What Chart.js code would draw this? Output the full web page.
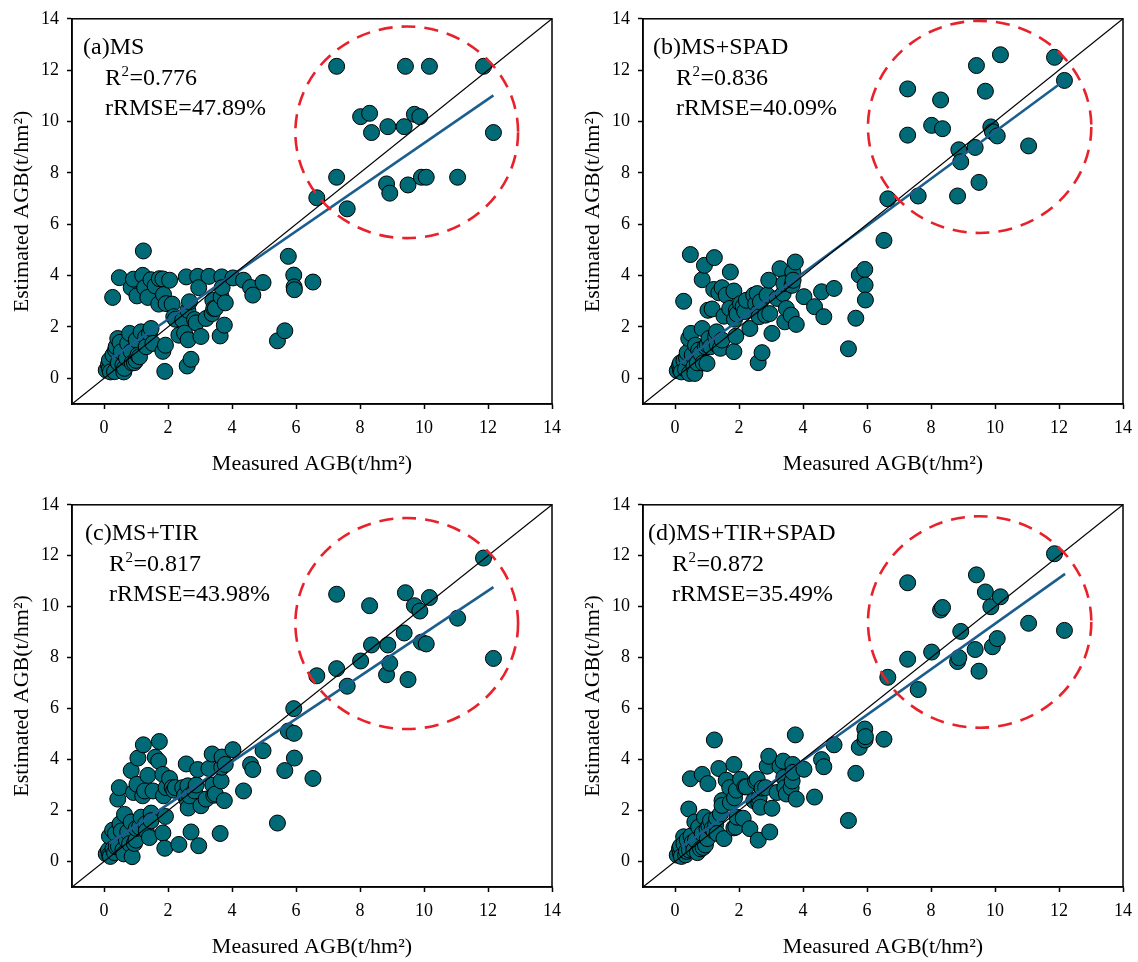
<!DOCTYPE html>
<html>
<head>
<meta charset="utf-8">
<script src="https://cdn.jsdelivr.net/npm/chart.js@4.4.1/dist/chart.umd.min.js"></script>
<style>
  body { margin: 0; background: #fff; }
  #wrap { position: relative; width: 1138px; height: 962px; }
  canvas { position: absolute; }
</style>
</head>
<body>
<div id="wrap">
  <canvas id="pa" width="569" height="481" style="left:0;top:0"></canvas>
  <canvas id="pb" width="569" height="481" style="left:571px;top:0"></canvas>
  <canvas id="pc" width="569" height="476" style="left:0;top:486px"></canvas>
  <canvas id="pd" width="569" height="476" style="left:571px;top:486px"></canvas>
</div>
<script>
// measured AGB (t/hm2) of the samples, same for every model
var measured = [
  0.07,0.14,0.17,0.17,0.2,0.27,0.28,0.33,0.36,0.38,
  0.43,0.45,0.48,0.5,0.54,0.59,0.62,0.64,0.7,0.74,
  0.8,0.85,0.85,0.88,0.92,0.95,1.0,1.01,1.03,1.06,
  1.11,1.16,1.21,1.23,1.27,1.3,1.32,1.37,1.42,1.47,
  1.47,1.53,1.6,1.71,1.73,1.84,1.84,1.86,1.9,1.92,
  1.94,2.05,2.13,2.18,2.23,2.34,2.46,2.52,2.57,2.6,
  2.62,2.63,2.67,2.72,2.83,2.88,2.93,2.96,3.03,3.19,
  3.28,3.38,3.4,3.43,3.48,3.63,3.66,3.68,3.69,3.76,
  3.79,
  4.03,4.36,4.58,4.65,4.97,5.42,5.65,5.76,5.93,5.94,5.95,6.53,
  6.65,7.27,7.27,7.6,8.02,8.3,8.36,8.83,8.87,8.93,9.38,9.42,9.5,9.7,9.87,9.92,10.07,10.17,11.05,11.86,12.17
];

// estimated AGB, model (a) MS
var estMS = [
  0.32,0.53,0.39,0.71,0.25,3.15,0.91,0.26,1.10,1.23,
  1.55,0.60,3.92,1.40,1.04,0.52,0.25,0.39,0.80,1.36,
  1.75,3.53,1.04,0.60,3.86,0.61,0.70,1.49,3.21,0.90,
  0.84,1.81,4.01,4.96,3.53,1.60,1.23,3.15,1.75,1.94,
  3.84,1.36,3.60,2.89,3.88,3.87,1.05,3.26,0.27,1.29,
  2.91,3.82,2.89,2.40,2.30,1.68,2.27,1.76,3.95,0.48,
  2.65,1.50,2.98,0.74,2.29,2.16,3.97,3.53,1.63,2.33,
  3.97,2.52,3.04,2.72,2.72,1.65,3.17,3.95,3.53,2.07,
  2.94,
  3.91,3.82,3.54,3.24,3.73,1.46,1.85,4.75,4.02,3.56,3.45,3.75,
  7.03,12.15,7.83,6.60,10.19,10.32,9.57,7.57,9.80,7.21,9.80,12.15,7.53,10.28,10.19,7.83,7.83,12.15,7.83,12.15,9.57
];

// estimated AGB, model (b) MS+SPAD
var estMSSPAD = [
  0.30,0.50,0.32,0.60,0.25,3.00,0.70,0.35,0.80,1.00,
  1.55,0.19,4.82,1.75,0.91,0.45,0.19,1.29,0.60,1.10,
  0.97,3.84,1.94,0.60,4.40,1.23,0.58,1.30,2.65,1.55,
  1.23,2.70,3.46,4.70,1.62,1.81,1.30,3.33,1.17,1.49,
  3.53,2.42,3.24,2.72,4.14,3.40,1.04,2.30,1.64,2.65,
  2.50,2.91,2.80,2.60,3.04,1.94,3.24,2.90,3.30,0.61,
  2.60,2.40,2.98,1.00,2.46,3.24,3.82,2.52,1.75,3.11,
  4.27,3.30,3.69,2.20,2.72,2.46,3.62,4.14,3.82,4.53,
  2.10,
  3.18,2.79,3.37,2.40,3.50,1.15,2.34,4.02,4.24,3.63,3.05,5.37,
  6.99,11.27,9.47,7.10,9.85,10.84,9.72,7.10,8.90,8.43,8.99,12.18,7.63,11.18,9.79,9.60,9.44,12.60,9.05,12.50,11.60
];

// estimated AGB, model (c) MS+TIR
var estMSTIR = [
  0.30,0.45,0.26,0.99,0.20,1.23,0.50,0.35,1.10,0.58,
  2.45,0.60,2.90,1.48,1.20,0.45,0.30,1.85,0.84,1.16,
  0.70,3.57,1.55,0.19,2.71,0.71,0.84,1.30,3.03,4.06,
  1.35,1.74,2.58,4.58,2.77,1.48,1.20,3.38,0.94,1.90,
  1.60,2.77,4.09,3.94,4.71,3.42,1.12,2.58,0.52,1.77,
  2.90,3.26,2.90,2.80,2.90,0.67,2.90,2.60,3.83,2.40,
  2.97,2.10,2.58,1.16,2.77,3.00,3.61,0.62,2.19,2.45,
  3.65,4.22,3.00,2.60,2.65,1.10,3.16,3.70,4.10,2.39,
  3.81,
  4.39,2.77,3.81,3.61,4.35,1.51,3.57,5.12,6.00,5.03,4.06,3.26,
  7.29,10.49,7.57,6.88,7.87,10.04,8.50,7.33,8.50,7.78,8.97,10.55,7.14,10.04,9.83,8.61,8.54,10.36,9.55,11.91,7.97
];

// estimated AGB, model (d) MS+TIR+SPAD
var estMSTIRSPAD = [
  0.25,0.50,0.32,0.60,0.20,0.97,0.70,0.26,0.40,0.85,
  2.06,0.45,3.25,1.00,0.75,0.45,1.55,0.84,0.35,1.35,
  0.50,3.42,1.10,0.55,1.74,0.65,1.29,0.90,3.06,1.40,
  1.60,1.29,1.20,4.77,1.45,1.70,1.10,3.65,1.87,2.39,
  2.20,0.90,3.19,2.90,2.32,3.81,1.32,2.50,1.35,2.80,
  1.74,3.23,1.70,2.93,2.93,1.29,2.39,3.16,3.23,0.84,
  2.30,2.50,2.13,2.88,2.90,3.74,4.13,1.16,2.09,2.71,
  3.74,3.94,3.30,2.90,2.65,2.90,3.16,3.81,3.50,4.97,
  2.45,
  3.62,2.53,4.00,3.72,4.58,1.61,3.46,4.48,5.20,4.77,4.90,4.80,
  7.23,10.94,7.94,6.75,8.22,9.87,9.97,7.85,8.00,9.03,8.32,11.25,7.47,10.58,10.00,8.43,8.75,10.39,9.35,12.08,9.07
];

// fitted lines [x1, y1, x2, y2]
var fitMS = [0.25, 0.79, 12.17, 11.02];
var fitMSSPAD = [0.16, 0.58, 12.17, 11.60];
var fitMSTIR = [0.17, 0.71, 12.17, 10.77];
var fitMSTIRSPAD = [0.21, 0.58, 12.19, 11.29];

var oneToOne = [-1, 14];
var tickValues = [0, 2, 4, 6, 8, 10, 12, 14];

var FONT = '"Liberation Serif", "Times New Roman", serif';
Chart.defaults.font.family = FONT;
Chart.defaults.color = '#000';

function decor(p) {
  return {
    id: 'decor',
    afterDatasetsDraw: function(chart) {
      var ctx = chart.ctx, xs = chart.scales.x, ys = chart.scales.y;
      // dashed ring round the high-biomass group
      var cx = xs.getPixelForValue(p.ring[0]), cy = ys.getPixelForValue(p.ring[1]);
      var rx = Math.abs(xs.getPixelForValue(p.ring[0] + p.ring[2]) - cx);
      var ry = Math.abs(ys.getPixelForValue(p.ring[1] + p.ring[3]) - cy);
      ctx.save();
      ctx.setLineDash([14, 9]);
      ctx.lineWidth = 2.6;
      ctx.strokeStyle = '#e8212b';
      ctx.beginPath();
      ctx.ellipse(cx, cy, rx, ry, 0, 0, Math.PI * 2);
      ctx.stroke();
      ctx.restore();
    },
    afterDraw: function(chart) {
      var a = chart.chartArea, ctx = chart.ctx;
      ctx.save();
      ctx.strokeStyle = '#000';
      ctx.lineWidth = 1.5;
      ctx.strokeRect(a.left, a.top, a.right - a.left, a.bottom - a.top);
      ctx.fillStyle = '#000';
      ctx.textBaseline = 'alphabetic';
      ctx.font = '24px ' + FONT;
      ctx.fillText(p.name, a.left + p.dx[0], a.top + 35.5);
      var x = a.left + p.dx[1], y = a.top + 66.5;
      ctx.fillText('R', x, y);
      x += ctx.measureText('R').width;
      ctx.font = '15px ' + FONT;
      ctx.fillText('2', x + 0.5, y - 9);
      x += ctx.measureText('2').width + 1;
      ctx.font = '24px ' + FONT;
      ctx.fillText('=' + p.r2, x, y);
      ctx.fillText('rRMSE=' + p.rrmse, a.left + p.dx[1], a.top + 96);
      ctx.restore();
    }
  };
}

function axis(title, isX, p) {
  return {
    type: 'linear',
    min: oneToOne[0],
    max: oneToOne[1],
    afterBuildTicks: function(s) { s.ticks = tickValues.map(function(v) { return {value: v}; }); },
    afterFit: function(s) {
      if (isX) s.height = p.xAxisH; else s.width = 72;
    },
    ticks: { color: '#000', font: {family: FONT, size: 18}, padding: 8, autoSkip: false, maxRotation: 0 },
    grid: { display: true, drawOnChartArea: false, drawTicks: true, tickLength: 5, tickWidth: 1.5, tickColor: '#000' },
    border: { display: true, color: '#000', width: 1.5 },
    title: {
      display: true, text: title, color: '#000',
      font: {family: FONT, size: 22},
      padding: isX ? {top: 0, bottom: p.titlePad} : {top: 9, bottom: 0}
    }
  };
}

function panel(id, est, fit, p) {
  var pts = measured.map(function(v, i) { return {x: v, y: est[i]}; });
  new Chart(document.getElementById(id), {
    type: 'scatter',
    data: {
      datasets: [
        {
          data: [{x: oneToOne[0], y: oneToOne[0]}, {x: oneToOne[1], y: oneToOne[1]}],
          showLine: true, borderColor: '#000', borderWidth: 1.2, pointRadius: 0
        },
        {
          data: [{x: fit[0], y: fit[1]}, {x: fit[2], y: fit[3]}],
          showLine: true, borderColor: '#1b5e8e', borderWidth: 2.6, pointRadius: 0
        },
        {
          data: pts,
          pointRadius: 8,
          pointBackgroundColor: '#006b76',
          pointBorderColor: '#000',
          pointBorderWidth: 1
        }
      ]
    },
    options: {
      responsive: false,
      animation: false,
      events: [],
      layout: { padding: {top: 14, right: 17, left: 0, bottom: 0} },
      plugins: { legend: {display: false}, tooltip: {enabled: false} },
      scales: {
        x: axis('Measured AGB(t/hm\u00b2)', true, p),
        y: axis('Estimated AGB(t/hm\u00b2)', false, p)
      }
    },
    plugins: [decor(p)]
  });
}

panel('pa', estMS, fitMS, {
  name: '(a)MS', r2: '0.776', rrmse: '47.89%', dx: [11, 33],
  ring: [9.46, 9.58, 3.48, 4.12], xAxisH: 77, titlePad: 4
});
panel('pb', estMSSPAD, fitMSSPAD, {
  name: '(b)MS+SPAD', r2: '0.836', rrmse: '40.09%', dx: [10, 33],
  ring: [9.52, 9.79, 3.49, 4.13], xAxisH: 77, titlePad: 4
});
panel('pc', estMSTIR, fitMSTIR, {
  name: '(c)MS+TIR', r2: '0.817', rrmse: '43.98%', dx: [13, 37],
  ring: [9.46, 9.34, 3.48, 4.14], xAxisH: 75, titlePad: 2
});
panel('pd', estMSTIRSPAD, fitMSTIRSPAD, {
  name: '(d)MS+TIR+SPAD', r2: '0.872', rrmse: '35.49%', dx: [5, 29],
  ring: [9.52, 9.40, 3.49, 4.15], xAxisH: 75, titlePad: 2
});
</script>
</body>
</html>
